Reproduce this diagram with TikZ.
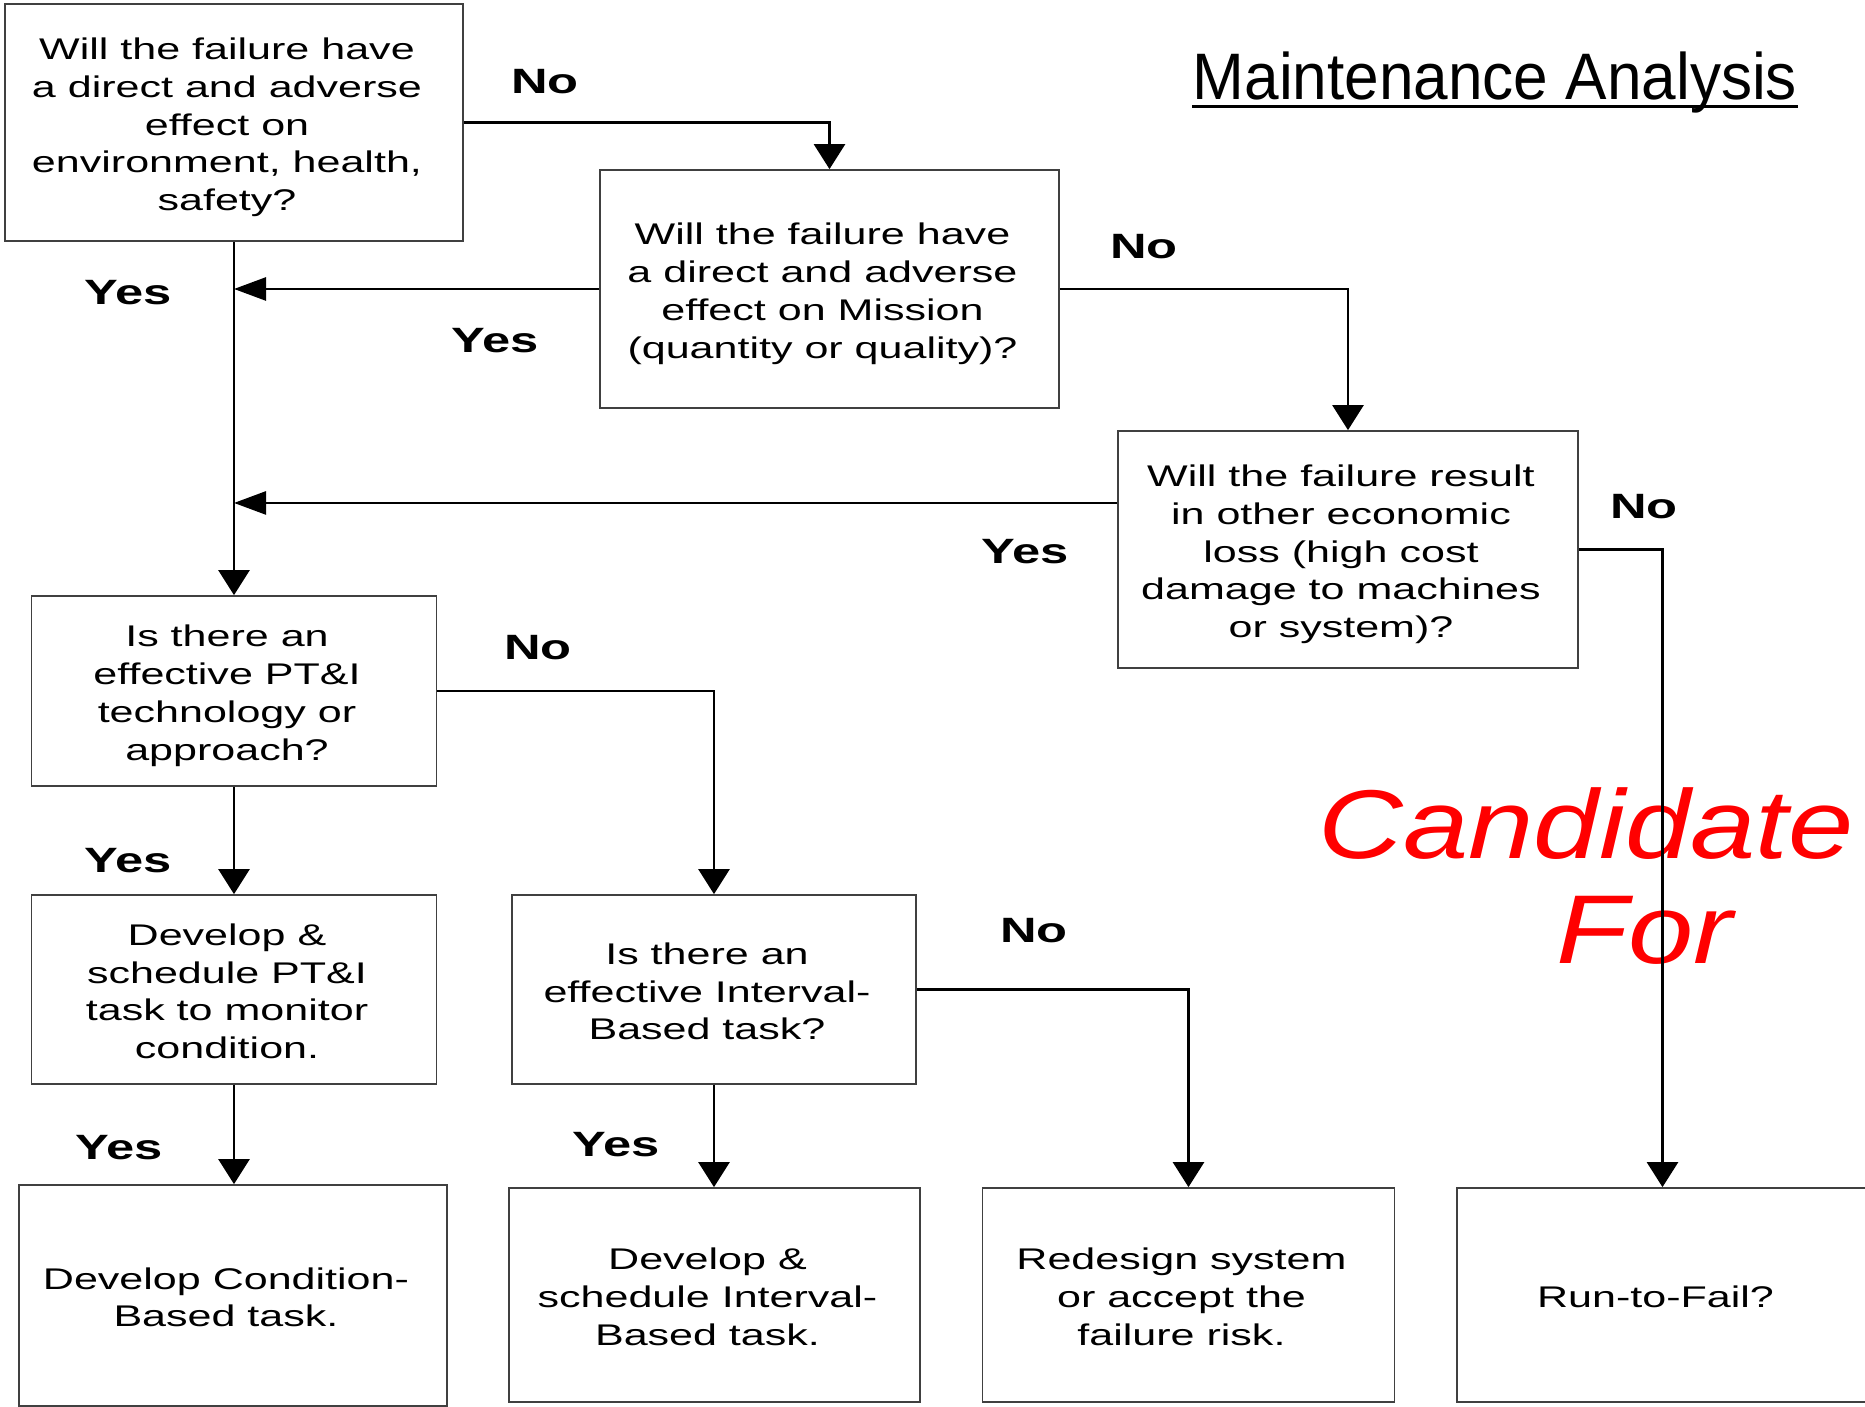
\documentclass[tikz,border=0pt]{standalone}
\usepackage{fontspec}
\setmainfont{Liberation Sans}
\newfontfamily\boxfont[FakeStretch=1.44]{Liberation Sans}
\newfontfamily\titlefont[FakeStretch=0.945]{Liberation Sans}
\newfontfamily\candfont[FakeStretch=1.2]{Liberation Sans}
\usetikzlibrary{arrows.meta}

% centred lines, set a little left of and below the box centre
\newsavebox{\linesbox}
\newcommand{\boxlines}[1]{\sbox\linesbox{\begin{tabular}{@{}c@{}}#1\end{tabular}}%
	\rule{0pt}{\dimexpr\ht\linesbox+0.1cm\relax}\usebox\linesbox\kern0.14cm}

\begin{document}
\begin{tikzpicture}
	[x=0.01cm, y=-0.01cm,
		containsText/.style	={font=\boxfont\fontsize{8.5pt}{10.75pt}\selectfont
									},
		block/.style		={rectangle
									, containsText
									, draw=black!75
									, line width=0.45pt
									%, fill=white
									, inner sep=0pt
									},
		answer/.style		={font=\boxfont\bfseries\fontsize{10pt}{12pt}\selectfont
									, inner sep=0pt
									},
		line/.style		 	={draw
									, line width=0.75pt
									, -{Triangle[length=0.25cm, width=0.31cm]}
									},
		hline/.style		={line
									, -{Triangle[length=0.32cm, width=0.23cm]}
									}
	]
\useasboundingbox (0,0) rectangle (1865,1407);

% heading and red note
\node [font=\titlefont\fontsize{18.7pt}{22pt}\selectfont, anchor=base west, inner sep=0pt] (title) at (1192,100) {Maintenance Analysis};
\draw [line width=0.85pt] ([yshift=-0.07cm]title.base west) -- ([yshift=-0.07cm]title.base east);
\node [font=\candfont\itshape\fontsize{27.8pt}{32pt}\selectfont, text=red, anchor=base west, inner sep=0pt] (candidate) at (1318,859) {Candidate};
\node [font=\candfont\itshape\fontsize{27.8pt}{32pt}\selectfont, text=red, anchor=base west, inner sep=0pt] (candidate for) at (1556,964) {For};

% questions
\node [block, minimum width=4.58cm, minimum height=2.37cm] (safety) at (234,122.5)
	{\boxlines{Will the failure have\\a direct and adverse\\effect on\\environment, health,\\safety?}};
\node [block, minimum width=4.59cm, minimum height=2.38cm] (mission) at (829.5,289)
	{\boxlines{Will the failure have\\a direct and adverse\\effect on Mission\\(quantity or quality)?}};
\node [block, minimum width=4.60cm, minimum height=2.37cm] (economic) at (1348,549.5)
	{\boxlines{Will the failure result\\in other economic\\loss (high cost\\damage to machines\\or system)?}};
\node [block, minimum width=4.05cm, minimum height=1.90cm] (pti) at (234,691)
	{\boxlines{Is there an\\effective PT\&I\\technology or\\approach?}};
\node [block, minimum width=4.05cm, minimum height=1.89cm] (pti task) at (234,989.5)
	{\boxlines{Develop \&\\schedule PT\&I\\task to monitor\\condition.}};
\node [block, minimum width=4.04cm, minimum height=1.89cm] (interval) at (714,989.5)
	{\boxlines{Is there an\\effective Interval-\\Based task?}};

% outcomes
\node [block, minimum width=4.28cm, minimum height=2.21cm] (cbm) at (233,1295.5)
	{\boxlines{Develop Condition-\\Based task.}};
\node [block, minimum width=4.11cm, minimum height=2.14cm] (interval task) at (714.5,1295)
	{\boxlines{Develop \&\\schedule Interval-\\Based task.}};
\node [block, minimum width=4.12cm, minimum height=2.14cm] (redesign) at (1188.5,1295)
	{\boxlines{Redesign system\\or accept the\\failure risk.}};
\node [block, minimum width=4.11cm, minimum height=2.14cm] (run to fail) at (1662.5,1295)
	{\boxlines{Run-to-Fail?}};

\coordinate (economic yes) at ([yshift=0.465cm]economic.west);

\begin{scope}[every path/.style=line]
	\path					(safety.east)			-| (mission.north);
	\path					(safety.south)			-- (pti.north);
	\path	[hline]		(mission.west)			-- (mission.west -| safety.south);
	\path					(mission.east)			-| (economic.north);
	\path	[hline]		(economic yes)			-- (economic yes -| safety.south);
	\path					(economic.east)		-| (run to fail.north);
	\path					(pti.south)				-- (pti task.north);
	\path					(pti.east)				-| (interval.north);
	\path					(pti task.south)		-- (pti task.south |- cbm.north);
	\path					(interval.south)		-- (interval.south |- interval task.north);
	\path					(interval.east)		-| (redesign.north);
\end{scope}

% yes / no
\node [answer] (no safety)		at (545,81.5)	{No};
\node [answer] (yes safety)		at (128,292.5)	{Yes};
\node [answer] (yes mission)		at (495,341)	{Yes};
\node [answer] (no mission)		at (1144,246.5)	{No};
\node [answer] (yes economic)	at (1025,552)	{Yes};
\node [answer] (no economic)		at (1644,507)	{No};
\node [answer] (yes pti)			at (128,861)	{Yes};
\node [answer] (no pti)			at (538,647.5)	{No};
\node [answer] (yes pti task)	at (119,1148)	{Yes};
\node [answer] (yes interval)	at (616,1145)	{Yes};
\node [answer] (no interval)		at (1034,931)	{No};
\end{tikzpicture}
\end{document}
